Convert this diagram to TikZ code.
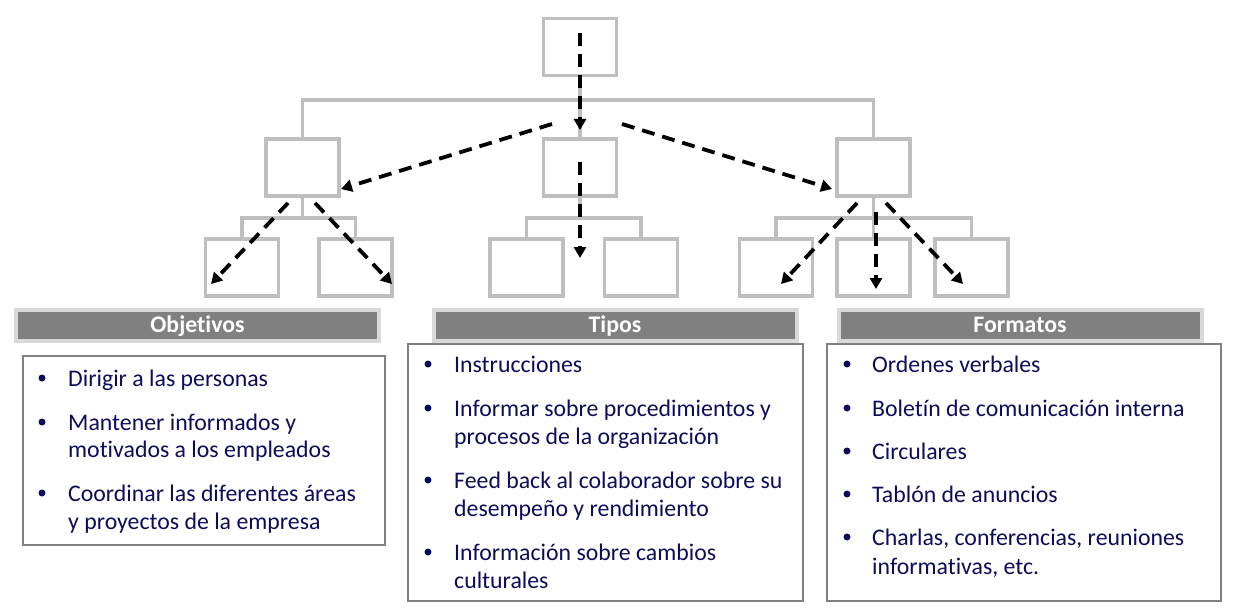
\documentclass[tikz,border=0pt]{standalone}
\usepackage{fontspec}
\setmainfont{Carlito}[Ligatures=NoCommon]
\usetikzlibrary{arrows.meta}
\definecolor{boxgray}{RGB}{191,191,191}
\definecolor{hdrgray}{RGB}{128,128,128}
\definecolor{hdrframe}{RGB}{217,217,217}
\definecolor{listframe}{RGB}{128,128,128}
\definecolor{navy}{RGB}{12,12,90}
\tikzset{
  treebox/.style={draw=boxgray, fill=white, line width=3.5pt, minimum width=73pt, minimum height=57pt, inner sep=0pt, outer sep=0pt},
  conn/.style={draw=boxgray, line width=3.5pt},
  dasharrow/.style={draw=black, line width=3.8pt, dash pattern=on 13pt off 8pt, -{Triangle[length=11pt,width=12pt]}},
  hdr/.style={fill=hdrgray, draw=hdrframe, line width=4pt, minimum width=363pt, minimum height=31pt, inner sep=0pt, text height=16pt, text depth=2pt, text=white, font=\bfseries\fontsize{23.8}{26}\selectfont},
  listbox/.style={draw=listframe, line width=2pt, inner sep=0pt},
  txt/.style={anchor=base west, inner sep=0pt, text=navy, font=\fontsize{23.8}{27}\selectfont},
  dot/.style={circle, fill=navy, minimum size=7pt, inner sep=0pt}
}
\begin{document}
\begin{tikzpicture}[x=1pt,y=-1pt]
\useasboundingbox (0,0) rectangle (1234,615);

% tree boxes
\node[treebox] (top) at (580,47) {};
\node[treebox] (ml) at (302.5,167.5) {};
\node[treebox] (mc) at (580,167.5) {};
\node[treebox] (mr) at (873.5,167.5) {};
\node[treebox] (l1) at (242,267.5) {};
\node[treebox] (l2) at (355.5,267.5) {};
\node[treebox] (m1) at (526.5,267.5) {};
\node[treebox] (m2) at (641,267.5) {};
\node[treebox] (r1) at (776,267.5) {};
\node[treebox] (r2) at (873.5,267.5) {};
\node[treebox] (r3) at (971.5,267.5) {};

% tree connectors
\coordinate (bar) at (580,100);
\coordinate (jl) at (302.5,218);
\coordinate (jm) at (580,218);
\coordinate (jr) at (873.5,218);
\draw[conn] (ml.north) |- (bar) -| (mr.north);
\draw[conn] (top.south) -- (mc.north);
\draw[conn] (ml.south) -- (jl);
\draw[conn] (l1.north) |- (jl) -| (l2.north);
\draw[conn] (mc.south) -- (jm);
\draw[conn] (m1.north) |- (jm) -| (m2.north);
\draw[conn] (mr.south) -- (r2.north);
\draw[conn] (r1.north) |- (jr) -| (r3.north);

% dashed arrows
\coordinate (a0s) at (580,33);  \coordinate (a0e) at (580,130);
\coordinate (a1s) at (552,124); \coordinate (a1e) at (341,189);
\coordinate (a2s) at (622,124); \coordinate (a2e) at (832,189);
\coordinate (a3s) at (580,162); \coordinate (a3e) at (580,258);
\coordinate (a4s) at (288,203); \coordinate (a4e) at (211,284);
\coordinate (a5s) at (315,203); \coordinate (a5e) at (392,284);
\coordinate (a6s) at (857,203); \coordinate (a6e) at (781,284);
\coordinate (a7s) at (876,212); \coordinate (a7e) at (876,289);
\coordinate (a8s) at (886,203); \coordinate (a8e) at (963,284);
\foreach \i in {0,...,8} {\draw[dasharrow] (a\i s) -- (a\i e);}

% list boxes
\node[listbox, minimum width=362pt, minimum height=189pt] (lobj) at (204,450.5) {};
\node[listbox, minimum width=395pt, minimum height=257pt] (ltip) at (605.5,472.5) {};
\node[listbox, minimum width=394pt, minimum height=257pt] (lfor) at (1024,472.5) {};

% headers
\node[hdr] (hobj) at (197.5,325.5) {Objetivos};
\node[hdr] (htip) at (615,325.5) {Tipos};
\node[hdr] (hfor) at (1020,325.5) {Formatos};

% Objetivos items
\node[dot] (ob1) at (42,378) {};
\node[txt] (o1) at (68,386) {Dirigir a las personas};
\node[dot] (ob2) at (42,422) {};
\node[txt] (o2a) at (68,430) {Mantener informados y};
\node[txt] (o2b) at (68,457) {motivados a los empleados};
\node[dot] (ob3) at (42,493) {};
\node[txt] (o3a) at (68,501) {Coordinar las diferentes áreas};
\node[txt] (o3b) at (68,529) {y proyectos de la empresa};

% Tipos items
\node[dot] (tb1) at (428,364) {};
\node[txt] (t1) at (454,372) {Instrucciones};
\node[dot] (tb2) at (428,408) {};
\node[txt] (t2a) at (454,416) {Informar sobre procedimientos y};
\node[txt] (t2b) at (454,444) {procesos de la organización};
\node[dot] (tb3) at (428,480) {};
\node[txt] (t3a) at (454,488) {Feed back al colaborador sobre su};
\node[txt] (t3b) at (454,516) {desempeño y rendimiento};
\node[dot] (tb4) at (428,552) {};
\node[txt] (t4a) at (454,560) {Información sobre cambios};
\node[txt] (t4b) at (454,588) {culturales};

% Formatos items
\node[dot] (fb1) at (847,364) {};
\node[txt] (f1) at (872,372) {Ordenes verbales};
\node[dot] (fb2) at (847,408) {};
\node[txt] (f2) at (872,416) {Boletín de comunicación interna};
\node[dot] (fb3) at (847,451) {};
\node[txt] (f3) at (872,459) {Circulares};
\node[dot] (fb4) at (847,494) {};
\node[txt] (f4) at (872,502) {Tablón de anuncios};
\node[dot] (fb5) at (847,537) {};
\node[txt] (f5a) at (872,545) {Charlas, conferencias, reuniones};
\node[txt] (f5b) at (872,574) {informativas, etc.};
\end{tikzpicture}
\end{document}
